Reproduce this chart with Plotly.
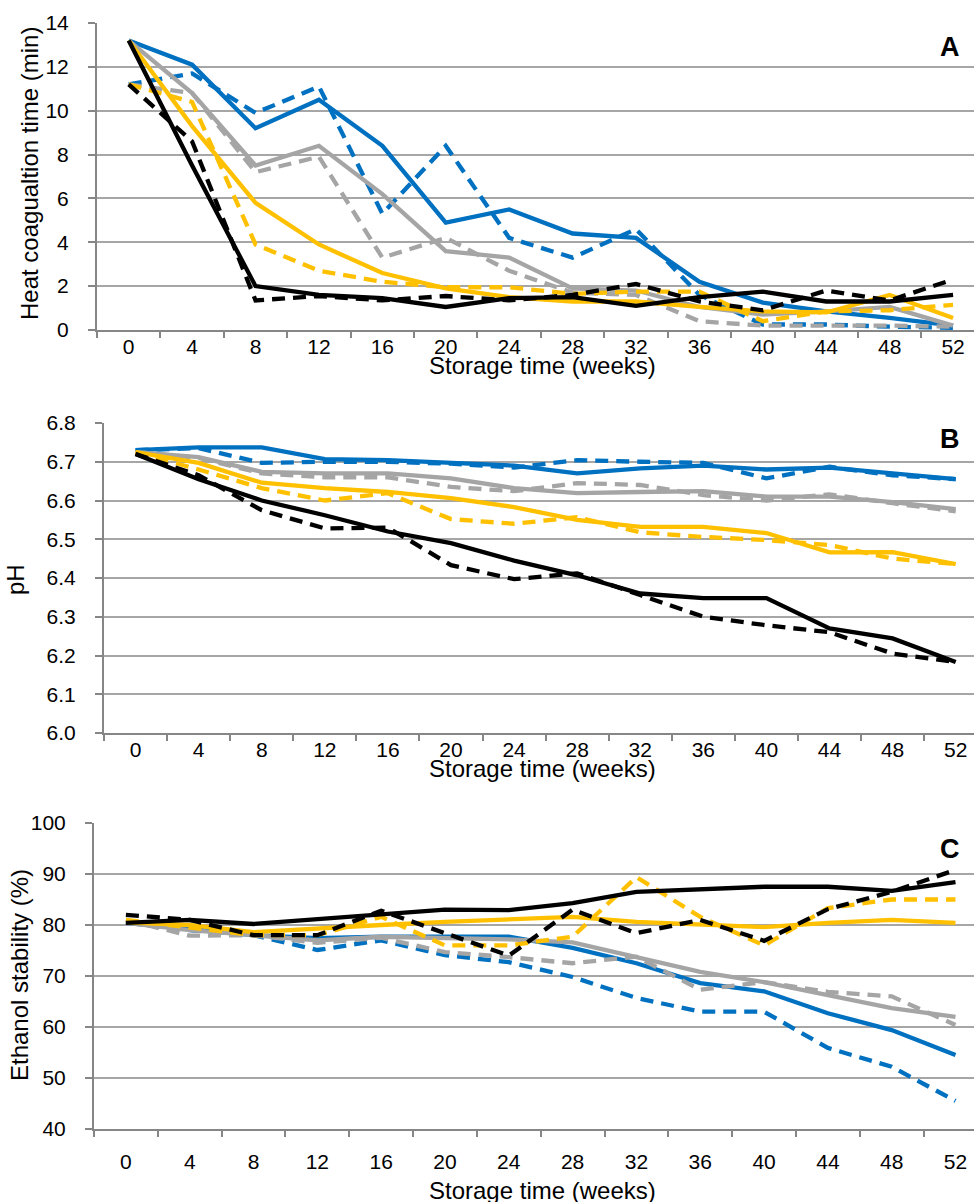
import plotly.graph_objects as go

weeks = ["0", "4", "8", "12", "16", "20", "24", "28", "32", "36", "40", "44", "48", "52"]

# Panel A: heat coagulation time (min)
hct_blue_solid = [13.2, 12.1, 9.2, 10.5, 8.4, 4.9, 5.5, 4.4, 4.2, 2.2, 1.25, 0.85, 0.55, 0.2]
hct_blue_dash = [11.2, 11.7, 9.9, 11.1, 5.3, 8.4, 4.2, 3.3, 4.6, 1.6, 0.25, 0.25, 0.15, 0.1]
hct_gray_solid = [13.2, 10.8, 7.5, 8.4, 6.2, 3.6, 3.3, 1.9, 1.8, 1.05, 0.7, 0.85, 1.05, 0.2]
hct_gray_dash = [11.2, 10.8, 7.2, 7.9, 3.3, 4.2, 2.7, 1.7, 1.6, 0.4, 0.2, 0.2, 0.2, 0.15]
hct_yellow_solid = [13.2, 9.3, 5.8, 3.9, 2.6, 1.9, 1.5, 1.3, 1.3, 1.05, 0.85, 0.8, 1.6, 0.55]
hct_yellow_dash = [11.2, 10.4, 3.9, 2.7, 2.2, 1.95, 1.95, 1.65, 1.75, 1.75, 0.4, 0.85, 0.9, 1.15]
hct_black_solid = [13.2, 7.5, 2.0, 1.6, 1.45, 1.05, 1.45, 1.5, 1.1, 1.5, 1.75, 1.3, 1.3, 1.6]
hct_black_dash = [11.2, 8.6, 1.35, 1.55, 1.35, 1.55, 1.35, 1.6, 2.1, 1.3, 0.9, 1.8, 1.35, 2.3]

# Panel B: pH
ph_blue_solid = [6.73, 6.737, 6.737, 6.707, 6.704, 6.697, 6.69, 6.67, 6.683, 6.69, 6.68, 6.685, 6.67, 6.655]
ph_blue_dash = [6.73, 6.735, 6.697, 6.70, 6.70, 6.695, 6.685, 6.704, 6.70, 6.697, 6.657, 6.687, 6.665, 6.655]
ph_gray_solid = [6.725, 6.712, 6.674, 6.67, 6.67, 6.657, 6.632, 6.619, 6.622, 6.624, 6.61, 6.61, 6.596, 6.578]
ph_gray_dash = [6.725, 6.71, 6.67, 6.66, 6.66, 6.635, 6.624, 6.645, 6.64, 6.614, 6.60, 6.616, 6.593, 6.572]
ph_yellow_solid = [6.725, 6.697, 6.646, 6.632, 6.622, 6.606, 6.583, 6.55, 6.532, 6.532, 6.516, 6.466, 6.467, 6.436]
ph_yellow_dash = [6.725, 6.68, 6.632, 6.60, 6.619, 6.552, 6.54, 6.557, 6.518, 6.506, 6.498, 6.485, 6.45, 6.436]
ph_black_solid = [6.72, 6.655, 6.60, 6.562, 6.52, 6.49, 6.445, 6.407, 6.36, 6.348, 6.348, 6.27, 6.244, 6.183]
ph_black_dash = [6.72, 6.665, 6.575, 6.528, 6.53, 6.433, 6.397, 6.412, 6.356, 6.30, 6.278, 6.26, 6.205, 6.183]

# Panel C: ethanol stability (%)
eth_blue_solid = [80.4, 79.2, 78.0, 77.4, 77.7, 77.7, 77.7, 75.5, 72.5, 68.6, 67.0, 62.7, 59.4, 54.5]
eth_blue_dash = [80.5, 79.0, 78.0, 75.1, 77.0, 74.1, 72.7, 69.8, 65.7, 63.0, 63.0, 55.9, 52.2, 45.5]
eth_gray_solid = [80.4, 79.0, 78.0, 77.0, 77.7, 77.5, 77.2, 76.6, 73.8, 70.8, 68.8, 66.3, 63.7, 62.0]
eth_gray_dash = [81.0, 77.9, 78.0, 76.5, 77.5, 74.7, 73.7, 72.5, 73.8, 67.3, 68.8, 66.9, 66.0, 60.4]
eth_yellow_solid = [80.5, 80.0, 78.6, 79.4, 80.0, 80.6, 81.0, 81.6, 80.6, 80.2, 79.6, 80.4, 81.0, 80.4]
eth_yellow_dash = [81.0, 79.6, 78.0, 78.0, 81.6, 76.0, 76.0, 77.7, 89.4, 81.6, 76.0, 83.3, 85.0, 85.0]
eth_black_solid = [80.4, 81.0, 80.2, 81.2, 82.2, 83.0, 82.9, 84.3, 86.5, 87.0, 87.5, 87.5, 86.7, 88.4]
eth_black_dash = [82.0, 81.0, 78.0, 78.0, 82.8, 78.4, 74.0, 83.0, 78.4, 81.0, 76.9, 83.1, 86.5, 90.8]

BLUE = "#0070C0"
GRAY = "#A5A5A5"
YELLOW = "#FFC000"
BLACK = "#000000"
DASH = "13px,8px"
LW = 4.3

W, H = 974, 1202
FONT = "Liberation Sans, Arial, sans-serif"
AXIS = "#868686"
GRID = "#A6A6A6"
TICK_SIZE = 21
TITLE_SIZE = 24

panels = [
    dict(
        key="", series=[
            (hct_blue_solid, BLUE, "solid"), (hct_blue_dash, BLUE, DASH),
            (hct_gray_solid, GRAY, "solid"), (hct_gray_dash, GRAY, DASH),
            (hct_yellow_solid, YELLOW, "solid"), (hct_yellow_dash, YELLOW, DASH),
            (hct_black_solid, BLACK, "solid"), (hct_black_dash, BLACK, DASH),
        ],
        left=97, top=23, bottom=330, xr=13.33, yr=[0, 14], dt=2, fmt="", xstand=-3,
        letter="A", ly=47, xt=366, ytitle="Heat coagualtion time (min)", ytx=30, yty=174,
    ),
    dict(
        key="2", series=[
            (ph_blue_solid, BLUE, "solid"), (ph_blue_dash, BLUE, DASH),
            (ph_gray_solid, GRAY, "solid"), (ph_gray_dash, GRAY, DASH),
            (ph_yellow_solid, YELLOW, "solid"), (ph_yellow_dash, YELLOW, DASH),
            (ph_black_solid, BLACK, "solid"), (ph_black_dash, BLACK, DASH),
        ],
        left=104, top=423, bottom=733, xr=13.29, yr=[6.0, 6.8], dt=0.1, fmt=".1f", xstand=-3,
        letter="B", ly=439, xt=768, ytitle="pH", ytx=15, yty=580,
    ),
    dict(
        key="3", series=[
            (eth_blue_solid, BLUE, "solid"), (eth_blue_dash, BLUE, DASH),
            (eth_gray_solid, GRAY, "solid"), (eth_gray_dash, GRAY, DASH),
            (eth_yellow_solid, YELLOW, "solid"), (eth_yellow_dash, YELLOW, DASH),
            (eth_black_solid, BLACK, "solid"), (eth_black_dash, BLACK, DASH),
        ],
        left=94, top=823, bottom=1129, xr=13.29, yr=[40, 100], dt=10, fmt="", xstand=13,
        letter="C", ly=849, xt=1190, ytitle="Ethanol stability (%)", ytx=20, yty=975,
    ),
]

fig = go.Figure()
layout = dict(
    width=W, height=H, margin=dict(l=0, r=0, t=0, b=0, autoexpand=False),
    paper_bgcolor="white", plot_bgcolor="white", showlegend=False,
    font=dict(family=FONT, size=TICK_SIZE, color="black"),
)
annotations = []
for p in panels:
    k = p["key"]
    for vals, col, dash in p["series"]:
        fig.add_trace(go.Scatter(
            x=weeks, y=vals, mode="lines", xaxis="x" + k, yaxis="y" + k,
            line=dict(color=col, width=LW, dash=dash), hoverinfo="skip",
        ))
    layout["xaxis" + k] = dict(
        type="category", categoryorder="array", categoryarray=weeks,
        domain=[p["left"] / W, 1], anchor="y" + k, automargin=False,
        range=[-0.5, p["xr"]], tickson="boundaries", ticks="outside", ticklen=6,
        tickwidth=1.5, tickcolor=AXIS, showline=True, linecolor=AXIS, linewidth=2,
        showgrid=False, zeroline=False, ticklabelstandoff=p["xstand"],
        tickfont=dict(size=TICK_SIZE, color="black"), fixedrange=True,
    )
    layout["yaxis" + k] = dict(
        domain=[1 - p["bottom"] / H, 1 - p["top"] / H], anchor="x" + k,
        automargin=False,
        range=p["yr"], dtick=p["dt"], tick0=p["yr"][0], tickformat=p["fmt"],
        ticks="outside", ticklen=7, tickwidth=1.5, tickcolor=AXIS,
        showline=True, linecolor=AXIS, linewidth=2, showgrid=True,
        gridcolor=GRID, gridwidth=1.5, zeroline=False, ticklabelstandoff=15,
        tickfont=dict(size=TICK_SIZE, color="black"), fixedrange=True,
    )
    annotations.append(dict(
        text="<b>%s</b>" % p["letter"], xref="paper", yref="paper",
        x=962 / W, y=1 - p["ly"] / H, xanchor="right", yanchor="middle",
        showarrow=False, font=dict(size=27, color="black", family=FONT),
    ))
    annotations.append(dict(
        text="Storage time (weeks)", xref="paper", yref="paper",
        x=542 / W, y=1 - p["xt"] / H, xanchor="center", yanchor="middle",
        showarrow=False, font=dict(size=TITLE_SIZE, color="black", family=FONT),
    ))
    annotations.append(dict(
        text=p["ytitle"], xref="paper", yref="paper", textangle=-90,
        x=p["ytx"] / W, y=1 - p["yty"] / H, xanchor="center", yanchor="middle",
        showarrow=False, font=dict(size=TITLE_SIZE, color="black", family=FONT),
    ))
layout["annotations"] = annotations
fig.update_layout(**layout)
fig.write_html(
    "out.html",
    config={"displayModeBar": False},
    post_script="document.body.style.margin='0px';",
)
